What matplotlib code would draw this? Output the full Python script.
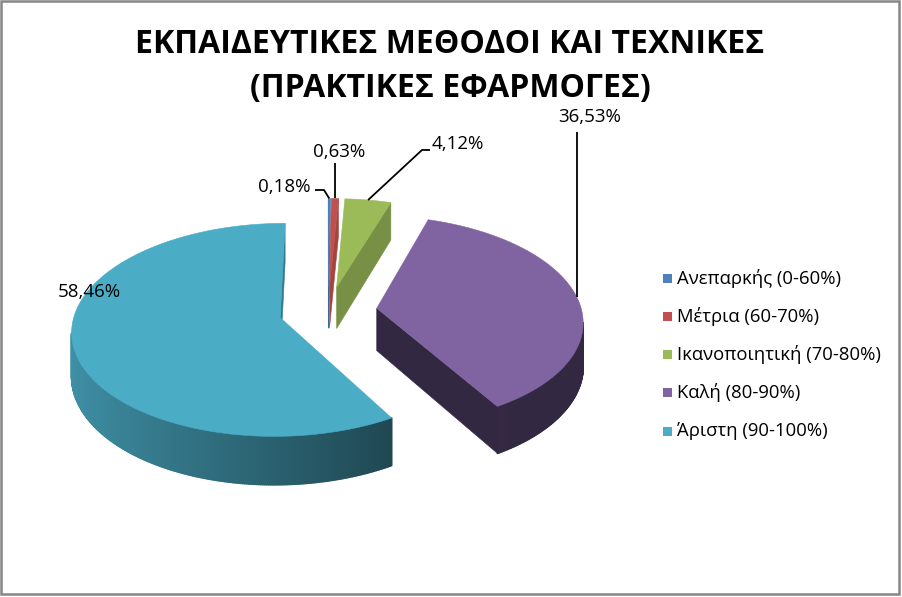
import numpy as np
import matplotlib
matplotlib.use("Agg")
import matplotlib.pyplot as plt
from matplotlib.patches import Polygon, Rectangle
from matplotlib.collections import PolyCollection
from matplotlib.colors import to_rgb

categories = ["Ανεπαρκής (0-60%)", "Μέτρια (60-70%)", "Ικανοποιητική (70-80%)",
              "Καλή (80-90%)", "Άριστη (90-100%)"]
shares = [0.18, 0.63, 4.12, 36.53, 58.46]
value_labels = ["0,18%", "0,63%", "4,12%", "36,53%", "58,46%"]
colors = ["#4F81BD", "#C0504D", "#9BBB59", "#8064A2", "#4BACC6"]
title = "ΕΚΠΑΙΔΕΥΤΙΚΕΣ ΜΕΘΟΔΟΙ ΚΑΙ ΤΕΧΝΙΚΕΣ"
subtitle = "(ΠΡΑΚΤΙΚΕΣ ΕΦΑΡΜΟΓΕΣ)"

plt.rcParams["font.family"] = ["Open Sans", "DejaVu Sans"]

# fake 3d view of the pie (pixel space)
CX, CY = 328, 311
R, RV, K, D = 205, 103.6, 0.114, 42.5
EXPLODE = 0.24
CAM = np.array([0.0, -1.0 / K])
cut_shade = [0.8, 0.85, 0.77, 0.4, 0.7]


def proj(u, v, z=0.0):
    w = 1 + K * np.asarray(v)
    return CX + R * np.asarray(u) / w, CY - (RV * np.asarray(v) + D * z) / w


def shade(c, f):
    return tuple(np.clip(np.array(to_rgb(c)) * f, 0, 1))


fig = plt.figure(figsize=(9.02, 5.97), dpi=100)
ax = fig.add_axes([0, 0, 1, 1])
ax.set_xlim(0, 902)
ax.set_ylim(597, 0)
ax.axis("off")

total = sum(shares)
fr = np.cumsum([0] + shares) / total
starts = 90 - 360 * fr[:-1]
ends = 90 - 360 * fr[1:]
mids = (starts + ends) / 2
offs = [(EXPLODE * np.cos(np.radians(m)), EXPLODE * np.sin(np.radians(m))) for m in mids]

order = sorted(range(len(shares)), key=lambda i: -offs[i][1])
z = 2
for i in order:
    a1, a2 = starts[i], ends[i]
    ou, ov = offs[i]
    col = colors[i]

    # outer wall
    th = np.radians(np.linspace(a1, a2, max(4, int(abs(a1 - a2) * 2) + 2)))
    quads, qcols = [], []
    for t0, t1 in zip(th[:-1], th[1:]):
        tm = (t0 + t1) / 2
        nrm = np.array([np.cos(tm), np.sin(tm)])
        p = np.array([ou, ov]) + nrm
        if nrm @ (CAM - p) <= 0:
            continue
        us = [ou + np.cos(t0), ou + np.cos(t1), ou + np.cos(t1), ou + np.cos(t0)]
        vs = [ov + np.sin(t0), ov + np.sin(t1), ov + np.sin(t1), ov + np.sin(t0)]
        zs = np.array([0, 0, -1, -1])
        xs, ys = proj(us, vs, zs)
        quads.append(np.c_[xs, ys])
        qcols.append(shade(col, np.clip(0.56 - 0.28 * np.cos(tm), 0.4, 0.9)))
    if quads:
        ax.add_collection(PolyCollection(quads, facecolors=qcols, edgecolors=qcols,
                                         linewidths=1.2, zorder=z))

    # radial cut faces
    for a, na in ((a1, a1 + 90), (a2, a2 - 90)):
        t = np.radians(a)
        nrm = np.array([np.cos(np.radians(na)), np.sin(np.radians(na))])
        mid = np.array([ou + 0.5 * np.cos(t), ov + 0.5 * np.sin(t)])
        if nrm @ (CAM - mid) <= 0:
            continue
        us = [ou, ou + np.cos(t), ou + np.cos(t), ou]
        vs = [ov, ov + np.sin(t), ov + np.sin(t), ov]
        xs, ys = proj(us, vs, np.array([0, 0, -1, -1]))
        fc = shade(col, cut_shade[i])
        ax.add_patch(Polygon(np.c_[xs, ys], closed=True, fc=fc, ec=fc, lw=0.4, zorder=z))

    # top face
    th = np.radians(np.linspace(a1, a2, max(4, int(abs(a1 - a2)) + 2)))
    xs, ys = proj(np.r_[ou, ou + np.cos(th)], np.r_[ov, ov + np.sin(th)])
    ax.add_patch(Polygon(np.c_[xs, ys], closed=True, fc=col, ec=col, lw=0.4, zorder=z + 0.5))
    z += 1

# data labels with leader lines
rim = [proj(offs[i][0] + np.cos(np.radians(mids[i])),
            offs[i][1] + np.sin(np.radians(mids[i]))) for i in range(len(shares))]
label_pos = [(284, 187), (339, 152), (458, 144), (590, 117), (89, 292)]
leaders = [
    [(315, 190), (324, 190)],
    [(float(rim[1][0]), 163)],
    [(430, 150), (422, 150)],
    [(float(rim[3][0]), 132)],
    None,
]
for i in range(len(shares)):
    ax.text(label_pos[i][0], label_pos[i][1], value_labels[i], fontsize=13.5,
            ha="center", va="center", color="black", zorder=20)
    if leaders[i] is not None:
        pts = leaders[i] + [(float(rim[i][0]), float(rim[i][1]))]
        ax.plot([p[0] for p in pts], [p[1] for p in pts], color="black", lw=1.3,
                zorder=19, solid_capstyle="butt")

# title
ax.text(450, 53, title, fontsize=23, fontweight="bold", ha="center", va="baseline")
ax.text(450, 97, subtitle, fontsize=23, fontweight="bold", ha="center", va="baseline")

# legend
for k, name in enumerate(categories):
    y = 278 + k * 38.3
    ax.add_patch(Rectangle((663, y - 4.5), 9, 9, fc=colors[k], ec="none"))
    ax.text(677, y, name, fontsize=13.3, ha="left", va="center")

# chart border
ax.add_patch(Rectangle((1, 1), 898, 593, fill=False, ec="#868686", lw=1.8, zorder=30))

fig.savefig("out.png", dpi=100)
